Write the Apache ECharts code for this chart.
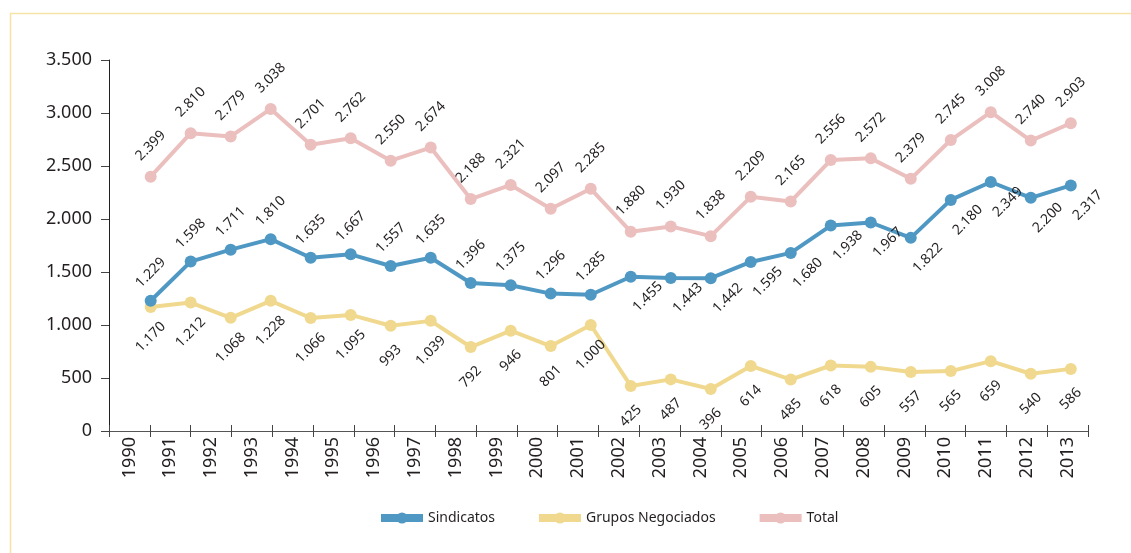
<!DOCTYPE html>
<html>
<head>
<meta charset="utf-8">
<script src="https://cdn.jsdelivr.net/npm/echarts@6/dist/echarts.min.js"></script>
<style>
html,body{margin:0;padding:0;background:#fff;}
#c{width:1131px;height:553px;}
</style>
</head>
<body>
<div id="c"></div>
<script>
const years = ['1990','1991','1992','1993','1994','1995','1996','1997','1998','1999','2000','2001','2002','2003','2004','2005','2006','2007','2008','2009','2010','2011','2012','2013'];
const sindicatos = [1229,1598,1711,1810,1635,1667,1557,1635,1396,1375,1296,1285,1455,1443,1442,1595,1680,1938,1967,1822,2180,2349,2200,2317];
const grupos = [1170,1212,1068,1228,1066,1095,993,1039,792,946,801,1000,425,487,396,614,485,618,605,557,565,659,540,586];
const total = [2399,2810,2779,3038,2701,2762,2550,2674,2188,2321,2097,2285,1880,1930,1838,2209,2165,2556,2572,2379,2745,3008,2740,2903];
const yTicks = [0,500,1000,1500,2000,2500,3000,3500];

const FONT = '"Noto Sans", "Open Sans", sans-serif';
const TXT = '#231f20';
const fmt = v => String(v).replace(/\B(?=(\d{3})+(?!\d))/g, '.');

function labelBase(pos){
  return {show:true, rotate:45, align:'center', verticalAlign:'middle',
    position:pos, fontSize:14, color:TXT, fontFamily:FONT,
    formatter: p => fmt(p.value[1])};
}
function mkData(vals, posFn){
  return vals.map((v,i)=>({value:[Number(years[i]), v], label: labelBase(posFn(i))}));
}

const chart = echarts.init(document.getElementById('c'));
chart.setOption({
  animation:false,
  backgroundColor:'#fff',
  textStyle:{fontFamily:FONT},
  graphic:[{type:'rect', left:8, top:11, shape:{width:2000,height:2000},
    style:{fill:'none', stroke:'#f6e4a6', lineWidth:1.5}, silent:true, z:-1}],
  grid:{left:109, right:43, top:60, bottom:122, containLabel:false},
  xAxis:[
    {type:'category', data:years, boundaryGap:true, position:'bottom',
     axisLine:{show:true, lineStyle:{color:'#555', width:1.2}},
     axisTick:{show:true, inside:false, length:6, lineStyle:{color:'#444'}},
     axisLabel:{rotate:90, fontSize:18, color:TXT, margin:6, fontFamily:FONT, interval:0},
     splitLine:{show:false}},
    {type:'category', data:years, boundaryGap:true, position:'bottom',
     axisLine:{show:false},
     axisTick:{show:true, inside:true, length:6, lineStyle:{color:'#444'}},
     axisLabel:{show:false}, splitLine:{show:false}},
    {type:'value', min:1988.958, max:2013.43, show:false, position:'bottom'}
  ],
  yAxis:{type:'value', min:0, max:3500, interval:500,
    axisLine:{show:true, lineStyle:{color:TXT, width:1}},
    axisTick:{show:true, length:8, lineStyle:{color:'#444'}},
    axisLabel:{fontSize:18, color:TXT, margin:17, fontFamily:FONT, formatter: v => fmt(v)},
    splitLine:{show:false}},
  legend:{left:372, top:506, itemWidth:42, itemHeight:14, itemGap:40,
    lineStyle:{width:8},
    textStyle:{fontSize:14, color:TXT, fontFamily:FONT},
    data:['Sindicatos','Grupos Negociados','Total']},
  series:[
    {name:'Total', type:'line', xAxisIndex:2, symbol:'circle', symbolSize:12,
     color:'#ebbfbd', lineStyle:{width:4, color:'#ebbfbd'}, itemStyle:{color:'#ebbfbd'},
     data: mkData(total, i => ['50%', -25]), z:2},
    {name:'Sindicatos', type:'line', xAxisIndex:2, symbol:'circle', symbolSize:12,
     color:'#4f98c4', lineStyle:{width:4, color:'#4f98c4'}, itemStyle:{color:'#4f98c4'},
     data: mkData(sindicatos, i => i < 12 ? ['50%', -22] : [23, 26]), z:3},
    {name:'Grupos Negociados', type:'line', xAxisIndex:2, symbol:'circle', symbolSize:12,
     color:'#f0d98e', lineStyle:{width:4, color:'#f0d98e'}, itemStyle:{color:'#f0d98e'},
     data: mkData(grupos, i => ['50%', 36]), z:2}
  ]
});
</script>
</body>
</html>
